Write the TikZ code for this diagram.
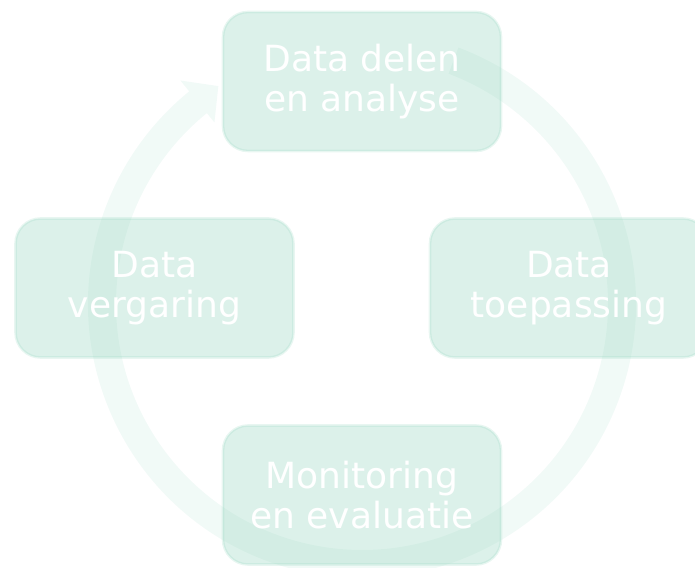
\documentclass[tikz,border=0pt]{standalone}
\usepackage{fontspec}
\setmainfont{DejaVu Sans}
\usepackage{xcolor}
\usepackage{tikz}
\usetikzlibrary{shapes,arrows,positioning}

\definecolor{mint}{RGB}{142,210,187}

\begin{document}
\begin{tikzpicture}[
    x=0.02cm, y=0.02cm,
    phase/.style={rectangle, rounded corners=0.5cm, fill=mint, fill opacity=0.31, draw=mint, draw opacity=0.2, line width=1.5pt, text=white, text opacity=1, minimum width=5.56cm, minimum height=2.78cm, align=center, font=\fontsize{20.5}{22.4}\selectfont},
    cycle/.style={fill=mint, fill opacity=0.12}
]
    \useasboundingbox (0,0) rectangle (695,567);

    % Cycle arrow
    \coordinate (hub) at (362,263);
    \begin{scope}[shift={(hub)}]
        \fill[cycle] (69.4:274) arc (69.4:-230.9:274) -- (-230.9:288) -- (-236.6:261)
            -- (-230.9:234) -- (-230.9:246) arc (-230.9:69.4:246) -- cycle;
    \end{scope}

    % Phases
    \node[phase] (delen) at (362,485.5) {Data delen\\en analyse};
    \node[phase] (toepassing) at (569,279) {Data\\toepassing};
    \node[phase] (monitoring) at (362,72) {Monitoring\\en evaluatie};
    \node[phase] (vergaring) at (154.5,279) {Data\\vergaring};
\end{tikzpicture}
\end{document}
